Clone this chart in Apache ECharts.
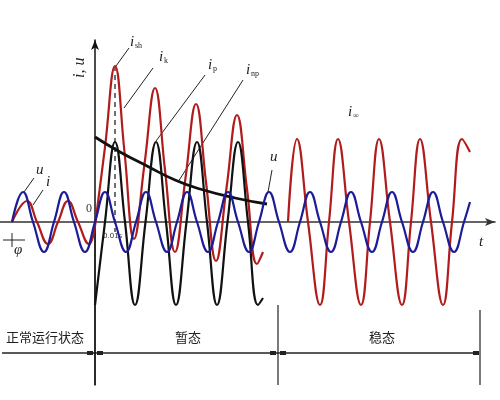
<!DOCTYPE html>
<html><head><meta charset="utf-8">
<script src="https://cdn.jsdelivr.net/npm/echarts@6/dist/echarts.min.js"></script>
<style>html,body{margin:0;background:#fff}#c{width:500px;height:400px}</style>
</head><body><div id="c"></div>
<script>
// t relative to fault instant (t=0 at the vertical axis); values in arbitrary units
const uVoltage = [[-83,0],[-72,30],[-62,0],[-51,-30],[-41,0],[-31,30],[-21,0],[-10,-30],[0,0],[10,30],[20,0],[31,-30],[41,0],[51,30],[61,0],[72,-30],[82,0],[92,30],[102,0],[113,-30],[123,0],[133,30],[143,0],[154,-30],[164,0],[174,30],[184,0],[195,-30],[205,0],[215,30],[225,0],[236,-30],[246,0],[256,30],[266,0],[277,-30],[287,0],[297,30],[307,0],[318,-30],[328,0],[338,30],[348,0],[359,-30],[369,0],[375,20]];
const iNormal = [[-83,0],[-68,21],[-58,0],[-47,-22],[-37,0],[-27,21],[-17,0],[-6,-22],[0,-4]];
const iShort = [[0,-4],[10,75],[20,156],[29.5,70],[39,-17],[49.5,58],[60,134],[70,52],[80,-30],[90.5,44],[101,118],[111,40],[121,-39],[131.5,34],[142,107],[152,33],[162,-42],[168,-30]];
const iSteady = [[193,0],[202,83],[213,0],[225,-83],[234,0],[243,83],[254,0],[266,-83],[275,0],[284,83],[295,0],[307,-83],[316,0],[325,83],[336,0],[348,-83],[357,0],[367,83],[375,70]];
const iPeriodic = [[0,-83],[10,0],[20,80],[30,0],[40,-83],[50.5,0],[61,80],[71,0],[81,-83],[91.5,0],[102,80],[112,0],[122,-83],[132.5,0],[143,80],[153,0],[163,-83],[168,-76]];
const iAperiodic = [[0,85],[25,70],[52,56],[80,42],[105,33],[140,24],[172,18]];
const dash = [[20,156],[20,-10]];
const phaseLabels = ['正常运行状态','暂态','稳态'];

const red='#b01c1c', blue='#1c1c96', blk='#111';
const mk=(d,c,w,extra)=>Object.assign({type:'line',data:d,smooth:0.45,symbol:'none',lineStyle:{color:c,width:w}},extra||{});
const ch=echarts.init(document.getElementById('c'));
const txt=(x,y,t,o)=>({type:'text',x,y,style:Object.assign({text:t,font:'italic 15px "Liberation Serif"',fill:'#222'},o||{})});
const ln=(x1,y1,x2,y2,w)=>({type:'line',shape:{x1,y1,x2,y2},style:{stroke:'#222',lineWidth:w||1}});
const sub=(x,y,a,b)=>[txt(x,y,a),txt(x+5,y+7,b,{font:'8px "Liberation Serif"'})];
const tick=(x,y)=>({type:'rect',shape:{x:x-3,y:y-2,width:6,height:4},style:{fill:'#222'}});
ch.setOption({
 animation:false,
 grid:{left:0,right:5,top:40,bottom:15},
 xAxis:{type:'value',min:-95,max:400,axisLine:{onZero:true,symbol:['none','arrow'],symbolSize:[6,10],lineStyle:{color:'#333',width:1.5}},axisTick:{show:false},axisLabel:{show:false},splitLine:{show:false}},
 yAxis:{type:'value',min:-163,max:182,axisLine:{show:true,onZero:true,symbol:['none','arrow'],symbolSize:[6,10],lineStyle:{color:'#111',width:1.5}},axisTick:{show:false},axisLabel:{show:false},splitLine:{show:false}},
 series:[
  mk(dash,blk,1.2,{smooth:false,lineStyle:{color:blk,width:1.2,type:[5,4]}}),
  mk(iNormal,red,2.2), mk(iShort,red,2.2), mk(iSteady,red,2.2),
  mk(iPeriodic,blk,2.2), mk(iAperiodic,blk,2.8,{smooth:true}),
  mk(uVoltage,blue,2.2)
 ],
 graphic:[
  {type:'text',x:72,y:78,rotation:Math.PI/2,style:{text:'i, u',font:'italic 16px "Liberation Serif"',fill:'#222'}},
  txt(86,203,'0',{font:'12px "Liberation Serif"',fill:'#333'}),
  txt(103,233,'0.01s',{font:'7px "DejaVu Sans"',fill:'#333'}),
  txt(479,235,'t'),
  ...sub(130,35,'i','sh'), ln(129,48,116,66),
  ...sub(159,50,'i','k'), ln(153,68,124,108),
  ...sub(208,58,'i','p'), ln(205,75,156,141),
  ...sub(246,63,'i','np'), ln(243,80,178,182),
  ...sub(348,105,'i','∞'),
  txt(270,150,'u'), ln(272,170,268,192),
  txt(36,163,'u'), ln(34,178,24,192),
  txt(46,175,'i'), ln(43,190,33,205),
  txt(14,243,'φ'), ln(3,240,25,240), ln(12,233,12,247),
  ln(95,222,95,385,1.2), ln(278,305,278,385,1.2), ln(480,310,480,385,1.2),
  ln(2,353,478,353,1.5),
  tick(90,353), tick(100,353), tick(273,353), tick(283,353), tick(476,353),
  {type:'text',x:45,y:337,style:{text:phaseLabels[0],font:'13px "Noto Sans CJK SC"',fill:'#222',align:'center',verticalAlign:'middle'}},
  {type:'text',x:188,y:337,style:{text:phaseLabels[1],font:'13px "Noto Sans CJK SC"',fill:'#222',align:'center',verticalAlign:'middle'}},
  {type:'text',x:382,y:337,style:{text:phaseLabels[2],font:'13px "Noto Sans CJK SC"',fill:'#222',align:'center',verticalAlign:'middle'}}
 ]
});
</script></body></html>
